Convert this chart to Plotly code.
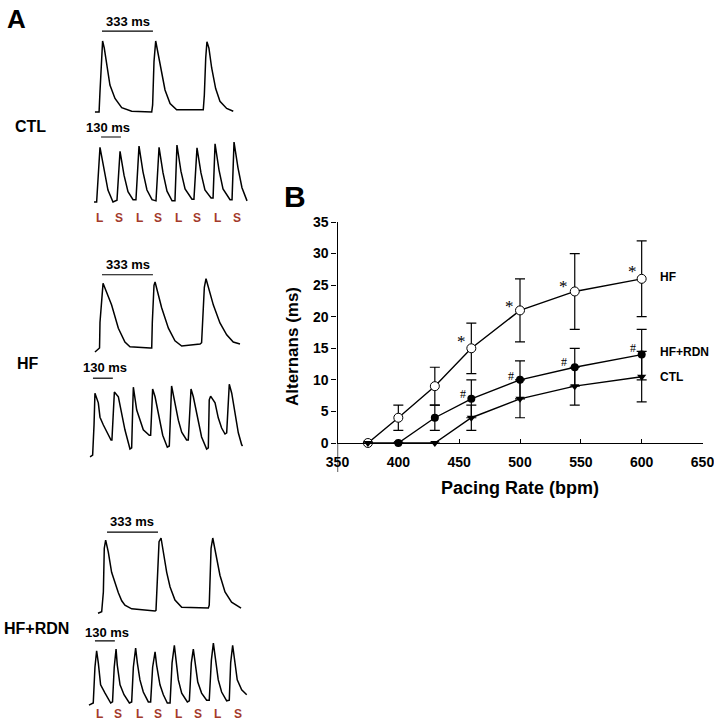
import plotly.graph_objects as go

W, H = 714, 722
FONT = "Liberation Sans, Arial, sans-serif"
SERIF = "Liberation Serif, Times New Roman, serif"
LS_RED = "#a33a2b"

# ---------------- panel A: optical action potentials (time in ms, amplitude in % of peak)
ctl_long_t = [65, 92, 98, 105, 115, 126, 142, 163, 196, 240, 305, 436, 442, 451, 462,
              475, 497, 523, 556, 599, 773, 780, 789, 797, 810, 828, 854, 882, 926, 969]
ctl_long_v = [0, 0, 29, 66, 100, 90, 66, 38, 19, 6, 1, 0, 10, 71, 100,
              85, 57, 31, 12, 3, 3, 24, 76, 99, 90, 62, 33, 15, 5, 1]

ctl_short_t = [59, 76, 98, 124, 150, 183, 209, 229, 255, 281, 314, 333, 353, 379, 405, 438,
               464, 484, 510, 536, 569, 588, 601, 627, 654, 699, 712, 732, 758, 784, 824,
               837, 850, 876, 902, 948, 961, 974, 1000, 1026, 1059]
ctl_short_v = [0, 0, 96, 56, 21, 0, 3, 89, 47, 18, 4, 4, 98, 53, 21, 4,
               2, 96, 51, 19, 2, 2, 100, 54, 23, 5, 5, 95, 51, 21, 7,
               7, 102, 56, 23, 4, 4, 105, 60, 25, 2]

hf_long_t = [65, 95, 98, 111, 118, 174, 218, 261, 294, 425, 436, 440, 451, 458, 501, 545,
             588, 632, 752, 762, 769, 780, 791, 839, 882, 926, 969, 1013]
hf_long_v = [-6, 0, 39, 85, 98, 65, 30, 9, 2, 0, 0, 39, 95, 100, 61, 30,
             11, 3, 6, 8, 45, 92, 105, 65, 38, 20, 9, 6]

hf_short_t = [33, 50, 59, 65, 87, 98, 120, 142, 170, 176, 192, 218, 240, 261, 294,
              305, 312, 316, 338, 355, 381, 420, 429, 442, 458, 479, 508, 538,
              551, 566, 588, 610, 632, 664, 675, 693, 708, 734, 762, 795,
              806, 812, 821, 850, 871, 893, 915, 926, 943, 959, 980, 1002, 1024, 1030]
hf_short_v = [-13, -10, 40, 93, 77, 53, 40, 28, 15, 15, 95, 87, 60, 32, 0,
              2, 70, 103, 65, 52, 32, 23, 23, 100, 87, 60, 23, 3,
              5, 105, 77, 48, 28, 15, 15, 100, 87, 53, 20, 0,
              2, 82, 88, 77, 52, 35, 25, 27, 108, 93, 60, 27, 7, 5]

rdn_long_t = [85, 109, 120, 126, 135, 152, 174, 196, 218, 240, 261, 305, 458,
              464, 475, 484, 497, 512, 534, 556, 588, 632, 806,
              812, 824, 835, 861, 882, 915, 958, 1020]
rdn_long_v = [-3, -1, 26, 86, 97, 81, 53, 38, 25, 14, 8, 3, 0,
              1, 63, 95, 100, 81, 53, 33, 15, 5, 4,
              8, 86, 100, 73, 49, 26, 12, 4]

rdn_short_t = [26, 54, 65, 76, 87, 102, 131, 168, 180, 191, 203, 211, 229, 255, 290,
               305, 316, 331, 342, 359, 381, 414, 429, 442, 458, 468, 490, 512, 538,
               556, 569, 584, 595, 610, 632, 669, 682, 695, 708, 719, 737, 762, 795,
               812, 826, 839, 850, 871, 893, 926, 943, 952, 965, 976, 995, 1024, 1057]
rdn_short_v = [-4, 0, 65, 95, 73, 33, 18, 0, 2, 65, 98, 69, 33, 15, 0,
               2, 65, 100, 73, 42, 20, 2, 2, 65, 93, 69, 33, 15, 0,
               0, 73, 105, 78, 42, 18, 2, 4, 73, 98, 73, 38, 18, 5,
               5, 78, 109, 82, 42, 20, 4, 5, 73, 105, 78, 42, 24, 15]

ls_labels = ["L", "S", "L", "S", "L", "S", "L", "S"]
ctl_ls_t = [98, 222, 353, 477, 608, 732, 863, 993]
hf_ls_t = [85, 209, 340, 471, 601, 732, 863, 987]
rdn_ls_t = [98, 216, 353, 477, 614, 739, 869, 1000]

# ---------------- panel B: alternans vs pacing rate
hf_rate = [375, 400, 430, 460, 500, 545, 600]
hf_alt = [0, 4, 9, 15, 21, 24, 26]
hf_err = [0, 2, 3, 4, 5, 6, 6]

ctl_rate = [375, 400, 430, 460, 500, 545, 600]
ctl_alt = [0, 0, 0, 4, 7, 9, 10.5]
ctl_err = [0, 0, 0, 2, 3, 3, 4]

rdn_rate = [400, 430, 460, 500, 545, 600]
rdn_alt = [0, 4, 7, 10, 12, 14]
rdn_err = [0, 2, 3, 3, 3, 4]

star_rate = [452, 491, 535.6, 592.6]
star_alt = [16, 21.6, 24.8, 27.1]
hash_rate = [452.9, 492.3, 536.4, 592.6]
hash_alt = [7.8, 10.6, 12.9, 15.1]


def px(x):
    return x / W


def py(y):
    return 1 - y / H


fig = go.Figure()
layout = dict(
    width=W, height=H, margin=dict(l=0, r=0, t=0, b=0, pad=0, autoexpand=False),
    paper_bgcolor="white", plot_bgcolor="white", showlegend=False,
    font=dict(family=FONT, color="black"),
)

# shared time axis for the traces (0.153 px per ms, starting at px 85)
layout["xaxis"] = dict(domain=[px(85), px(255)], range=[0, 170 / 0.153], visible=False,
                       anchor="y", automargin=False)

# rows: trace, baseline px, peak px, scale bar, bar level, label text pos, L/S
rows = [
    (ctl_long_t, ctl_long_v, 112, 41, [111, 444], 114, "333 ms", 281, 127, None),
    (ctl_short_t, ctl_short_v, 202, 145, [105, 235], 114, "130 ms", 150, 130, ctl_ls_t),
    (hf_long_t, hf_long_v, 348, 282, [111, 444], 111, "333 ms", 281, 126, None),
    (hf_short_t, hf_short_v, 449, 389, [52, 182], 118, "130 ms", 131, 135, hf_ls_t),
    (rdn_long_t, rdn_long_v, 611, 538, [144, 477], 108, "333 ms", 307, 122, None),
    (rdn_short_t, rdn_short_v, 703, 648, [65, 195], 113, "130 ms", 144, 129, rdn_ls_t),
]
ls_level = {1: -28, 3: -32, 5: -20}

annotations = []
lo, hi = -30, 140
for i, (t, v, base, peak, bar, bar_v, bar_txt, tx, tv, ls_t) in enumerate(rows):
    name = "y" if i == 0 else "y%d" % (i + 1)
    key = "yaxis" if i == 0 else "yaxis%d" % (i + 1)
    s = (base - peak) / 100
    layout[key] = dict(domain=[py(base - lo * s), py(base - hi * s)], range=[lo, hi],
                       visible=False, anchor="x", automargin=False)
    fig.add_trace(go.Scatter(x=t, y=v, xaxis="x", yaxis=name, mode="lines",
                             line=dict(color="black", width=1.5), hoverinfo="skip"))
    fig.add_trace(go.Scatter(x=bar, y=[bar_v, bar_v], xaxis="x", yaxis=name, mode="lines",
                             line=dict(color="black", width=1.2), hoverinfo="skip"))
    annotations.append(dict(x=tx, y=tv, xref="x", yref=name, text="<b>%s</b>" % bar_txt,
                            xanchor="center", yanchor="middle",
                            showarrow=False, font=dict(size=13, family=FONT)))
    if ls_t:
        for lab, lt in zip(ls_labels, ls_t):
            annotations.append(dict(x=lt, y=ls_level[i], xref="x", yref=name,
                                    text="<b>%s</b>" % lab, showarrow=False,
                                    xanchor="center", yanchor="middle",
                                    font=dict(size=12, color=LS_RED, family=FONT)))

for txt, x, y in [("CTL", 30, 126), ("HF", 28, 364), ("HF+RDN", 36, 628)]:
    annotations.append(dict(x=px(x), y=py(y), xref="paper", yref="paper", text="<b>%s</b>" % txt,
                            xanchor="center", yanchor="middle",
                            showarrow=False, font=dict(size=16, family=FONT)))

annotations.append(dict(x=px(16), y=py(19), xref="paper", yref="paper", text="<b>A</b>",
                        xanchor="center", yanchor="middle",
                        showarrow=False, font=dict(size=26, family=FONT)))
annotations.append(dict(x=px(295), y=py(196), xref="paper", yref="paper", text="<b>B</b>",
                        xanchor="center", yanchor="middle",
                        showarrow=False, font=dict(size=30, family=FONT)))

# ---------------- panel B axes
layout["xaxis2"] = dict(domain=[px(337.5), px(702.5)], range=[350, 650], anchor="y7",
                        tickvals=[350, 400, 450, 500, 550, 600, 650], showline=True,
                        linecolor="black", linewidth=1.3, ticks="inside", ticklen=4,
                        tickcolor="black", tickwidth=1.2, showgrid=False, zeroline=False,
                        ticklabelstandoff=6, automargin=False, ticklabeloverflow="allow",
                        tickfont=dict(size=14, family=FONT, weight="bold"))
layout["yaxis7"] = dict(domain=[py(443), py(222)], range=[0, 35], anchor="x2",
                        tickvals=[0, 5, 10, 15, 20, 25, 30, 35], showline=True,
                        linecolor="black", linewidth=1.3, ticks="outside", ticklen=5,
                        tickcolor="black", tickwidth=1.2, showgrid=False, zeroline=False,
                        automargin=False,
                        tickfont=dict(size=14, family=FONT, weight="bold"))

err = dict(type="data", color="black", thickness=1.2, width=5)
fig.add_trace(go.Scatter(x=hf_rate, y=hf_alt, xaxis="x2", yaxis="y7", mode="lines+markers",
                         error_y=dict(err, array=hf_err), cliponaxis=False,
                         line=dict(color="black", width=1.4),
                         marker=dict(symbol="circle", size=9, color="white",
                                     line=dict(color="black", width=1))))
fig.add_trace(go.Scatter(x=ctl_rate, y=ctl_alt, xaxis="x2", yaxis="y7", mode="lines+markers",
                         error_y=dict(err, array=ctl_err), cliponaxis=False,
                         line=dict(color="black", width=1.4),
                         marker=dict(symbol="triangle-down", size=8, color="black")))
fig.add_trace(go.Scatter(x=rdn_rate, y=rdn_alt, xaxis="x2", yaxis="y7", mode="lines+markers",
                         error_y=dict(err, array=rdn_err), cliponaxis=False,
                         line=dict(color="black", width=1.4),
                         marker=dict(symbol="circle", size=8, color="black")))

for x, y in zip(star_rate, star_alt):
    annotations.append(dict(x=x, y=y, xref="x2", yref="y7", text="*", showarrow=False,
                            xanchor="center", yanchor="middle",
                            font=dict(size=17, family=SERIF, color="black")))
for x, y in zip(hash_rate, hash_alt):
    annotations.append(dict(x=x, y=y, xref="x2", yref="y7", text="#", showarrow=False,
                            xanchor="center", yanchor="middle",
                            font=dict(size=12, family=SERIF, color="black")))

for txt, y in [("HF", 26.3), ("HF+RDN", 14.4), ("CTL", 10.5)]:
    annotations.append(dict(x=613.4, y=y, xref="x2", yref="y7", text="<b>%s</b>" % txt,
                            xanchor="left", yanchor="middle",
                            showarrow=False, font=dict(size=12, family=FONT)))

annotations.append(dict(x=px(520), y=py(488), xref="paper", yref="paper",
                        text="<b>Pacing Rate (bpm)</b>", showarrow=False,
                        xanchor="center", yanchor="middle",
                        font=dict(size=18, family=FONT)))
annotations.append(dict(x=px(292), y=py(347), xref="paper", yref="paper",
                        text="<b>Alternans (ms)</b>", textangle=-90, showarrow=False,
                        xanchor="center", yanchor="middle",
                        font=dict(size=17, family=FONT)))

# y-axis line runs a little past the x axis in the original
layout["shapes"] = [dict(type="line", xref="x2", yref="paper", x0=350, x1=350,
                         y0=py(443), y1=py(472), line=dict(color="black", width=1.3))]
layout["annotations"] = annotations
fig.update_layout(**layout)

# the page's default 8px body margin would push the figure off the window
fig.write_html("out.html", config={"displayModeBar": False},
               post_script="document.body.style.margin='0';")
